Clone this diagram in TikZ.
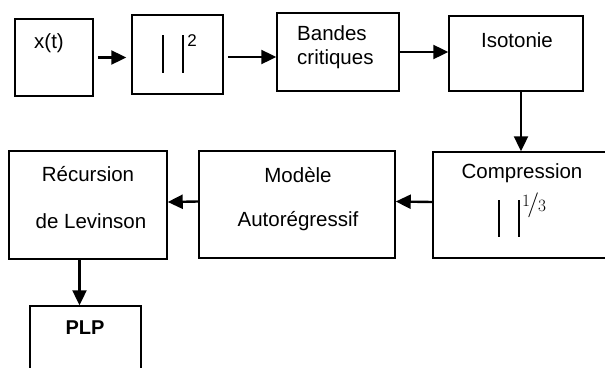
\documentclass[tikz,border=0pt]{standalone}
\usepackage[no-math]{fontspec}
\setmainfont{Liberation Sans}
\usepackage{nicefrac}
\usetikzlibrary{arrows.meta}

\begin{document}
\begin{tikzpicture}[x=1pt,y=-1pt,
    bloc/.style={draw,line width=1.5pt,inner sep=0pt},
    txt/.style={inner sep=0pt,font=\fontsize{20.5}{24}\selectfont},
    fleche/.style={line width=2.4pt,-{Triangle[length=15pt,width=14pt]}},
    barre/.style={line width=1.4pt}]
			%%%%% START %%%%%
			\useasboundingbox (0,0) rectangle (605,367);
			
			% ligne du haut
			\node[bloc, minimum width=78pt, minimum height=77pt] (xt) at (54,57.5) {};
			\node[bloc, minimum width=91pt, minimum height=79pt] (abs) at (177.5,54.5) {};
			\node[bloc, minimum width=122pt, minimum height=78pt] (bandes) at (338,52) {};
			\node[bloc, minimum width=134pt, minimum height=75pt] (iso) at (516,53.5) {};
			
			\node[txt] (xtlbl) at (49,43) {x(t)};
			\draw[barre] (163,35) -- (163,73);
			\draw[barre] (183,35) -- (183,73);
			\node[inner sep=0pt, font=\fontsize{17}{20}\selectfont] (carre) at (192,41) {2};
			\node[txt, anchor=west, align=left] (bandeslbl) at (297,47) {Bandes\\critiques};
			\node[txt] (isolbl) at (517,40) {Isotonie};
			
			% ligne du bas
			\node[bloc, minimum width=176pt, minimum height=106pt] (comp) at (521,205) {};
			\node[bloc, minimum width=196pt, minimum height=107pt] (modele) at (297,204.5) {};
			\node[bloc, minimum width=158pt, minimum height=108pt] (recur) at (88,205) {};
			\node[bloc, minimum width=111pt, minimum height=72pt] (plp) at (85.5,342) {};
			
			\node[txt] (complbl) at (522,173) {Compression};
			\draw[barre] (499,200) -- (499,237);
			\draw[barre] (519,200) -- (519,237);
			\node[inner sep=0pt, font=\fontsize{23}{26}\selectfont] (tiers) at (534,205) {$\nicefrac{1}{3}$};
			\node[txt] (modlbl) at (298,175) {Modèle};
			\node[txt] (arlbl) at (298,221) {Autorégressif};
			\node[txt] (reclbl) at (88,174) {Récursion};
			\node[txt] (levlbl) at (91,221) {de Levinson};
			\node[txt, font=\fontsize{20}{24}\selectfont\bfseries] (plplbl) at (85,328) {PLP};
			
			% fleches
			\draw[fleche] ([xshift=4pt]xt.east) -- ([xshift=-5pt]xt.east -| abs.west);
			\draw[fleche] ([xshift=4pt]abs.east |- 0,57) -- (bandes.west |- 0,57);
			\draw[fleche] (bandes.east) -- (bandes.east -| iso.west);
			\draw[fleche] (comp.north |- iso.south) -- (comp.north);
			\draw[fleche] ([yshift=3pt]comp.west) -- ([yshift=3pt]modele.east);
			\draw[fleche] ([yshift=3pt]modele.west) -- ([yshift=3pt]recur.east);
			\draw[fleche] ([xshift=-6pt]plp.north |- recur.south) -- ([xshift=-6pt]plp.north);
			
			%%%%% END %%%%%
\end{tikzpicture}
\end{document}
